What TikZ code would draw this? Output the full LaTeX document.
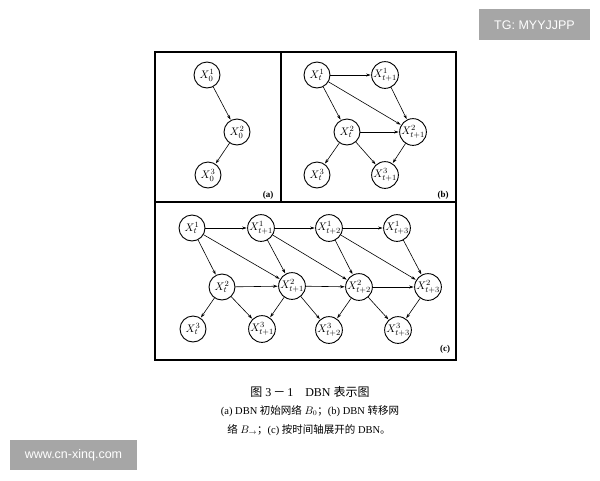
\documentclass[tikz,border=0pt]{standalone}
\usepackage{amsmath}
\usepackage{fontspec}
\setmainfont{Liberation Serif}
\newfontfamily\cjkfont{Noto Sans CJK SC}
\newfontfamily\wmfont{Liberation Sans}
\usetikzlibrary{arrows.meta}

\begin{document}
\begin{tikzpicture}[x=1pt,y=-1pt,line cap=rect,
  var/.style={draw, circle, line width=0.9pt, minimum size=26pt, inner sep=0pt, font=\fontsize{11}{11}\selectfont},
  dep/.style={-{Stealth[length=4.5pt,width=3pt]}, line width=0.6pt, shorten >=0.5pt},
  wm/.style={text=white, inner sep=0pt, font=\wmfont\fontsize{12.5}{12.5}\selectfont}]
\useasboundingbox (0,0) rectangle (600,480);
\definecolor{custcol_a6}{RGB}{166, 166, 166}
\definecolor{custcol_0_0_0}{RGB}{0, 0, 0}
% frames
\draw [line width=1.1pt, custcol_0_0_0] (155,52) rectangle (456,360);
\draw [line width=1.1pt, custcol_0_0_0] (281,52) -- (281,202);
\draw [line width=1.1pt, custcol_0_0_0] (155,202) -- (456,202);
% (a) initial network
\node[var] (a1) at (207,75) {$X_0^1$};
\node[var] (a2) at (237,132) {$X_0^2$};
\node[var] (a3) at (208,175) {$X_0^3$};
\node[anchor=base] (la) at (268,197) {\fontsize{9}{9}\selectfont\bfseries (a)};
\draw [dep] (a1) -- (a2);
\draw [dep] (a2) -- (a3);
% (b) transition network
\node[var] (b11) at (317,75) {$X_t^1$};
\node[var] (b12) at (385,75) {$X_{t+1}^1$};
\node[var] (b21) at (347,132) {$X_t^2$};
\node[var] (b22) at (413,132) {$X_{t+1}^2$};
\node[var] (b31) at (317,175) {$X_t^3$};
\node[var] (b32) at (385,175) {$X_{t+1}^3$};
\node[anchor=base] (lb) at (443,197) {\fontsize{9}{9}\selectfont\bfseries (b)};
\draw [dep] (b11) -- (b12);
\draw [dep] (b11) -- (b21);
\draw [dep] (b11) -- (b22);
\draw [dep] (b12) -- (b22);
\draw [dep] (b21) -- (b22);
\draw [dep] (b21) -- (b31);
\draw [dep] (b21) -- (b32);
\draw [dep] (b22) -- (b32);
% (c) unrolled network
\node[var] (c11) at (192,228) {$X_t^1$};
\node[var] (c12) at (261,228) {$X_{t+1}^1$};
\node[var] (c13) at (329,228) {$X_{t+2}^1$};
\node[var] (c14) at (397,228) {$X_{t+3}^1$};
\node[var] (c21) at (222,287) {$X_t^2$};
\node[var] (c22) at (292,286) {$X_{t+1}^2$};
\node[var] (c23) at (359,287) {$X_{t+2}^2$};
\node[var] (c24) at (428,287) {$X_{t+3}^2$};
\node[var] (c31) at (193,329) {$X_t^3$};
\node[var] (c32) at (262,329) {$X_{t+1}^3$};
\node[var] (c33) at (329,330) {$X_{t+2}^3$};
\node[var] (c34) at (398,330) {$X_{t+3}^3$};
\node[anchor=base] (lc) at (445,351) {\fontsize{9}{9}\selectfont\bfseries (c)};
\draw [dep] (c11) -- (c12);
\draw [dep] (c12) -- (c13);
\draw [dep] (c13) -- (c14);
\draw [dep] (c11) -- (c21);
\draw [dep] (c12) -- (c22);
\draw [dep] (c13) -- (c23);
\draw [dep] (c14) -- (c24);
\draw [dep] (c11) -- (c22);
\draw [dep] (c12) -- (c23);
\draw [dep] (c13) -- (c24);
\draw [dep] (c21) -- (c22);
\draw [dep] (c22) -- (c23);
\draw [dep] (c23) -- (c24);
\draw [dep] (c21) -- (c31);
\draw [dep] (c22) -- (c32);
\draw [dep] (c23) -- (c33);
\draw [dep] (c24) -- (c34);
\draw [dep] (c21) -- (c32);
\draw [dep] (c22) -- (c33);
\draw [dep] (c23) -- (c34);
% caption
\node[anchor=base] (cap1) at (310,396) {\fontsize{12}{12}\selectfont{\cjkfont 图} 3\,{\cjkfont －}\,1\quad DBN {\cjkfont 表示图}};
\node[anchor=base] (cap2) at (310,414) {\fontsize{10.5}{10.5}\selectfont (a) DBN {\cjkfont 初始网络} $B_0${\cjkfont ；}(b) DBN {\cjkfont 转移网}};
\node[anchor=base] (cap3) at (309,433) {\fontsize{10.5}{10.5}\selectfont {\cjkfont 络} $B_{\rightarrow}${\cjkfont ；}(c) {\cjkfont 按时间轴展开的} DBN{\cjkfont 。}};
% watermarks
\fill [custcol_a6] (479,9) rectangle (590,40);
\node[wm] (tg) at (534.5,25) {TG: MYYJJPP};
\fill [custcol_a6] (10,440) rectangle (137,470);
\node[wm] (www) at (73.5,455) {www.cn-xinq.com};
\end{tikzpicture}
\end{document}
